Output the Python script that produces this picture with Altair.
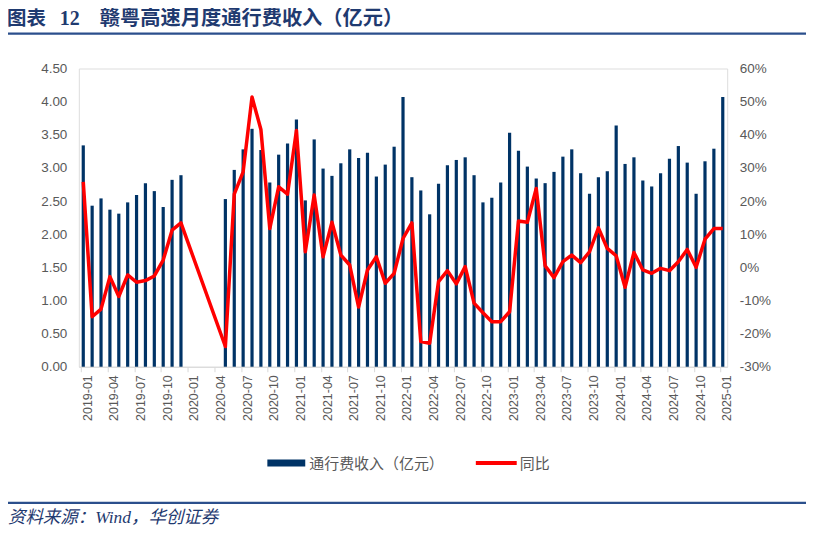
import altair as alt
import pandas as pd

# ---------------- data ----------------
all_months = [f"{y}-{m:02d}" for y in range(2019, 2026) for m in range(1, 13)]
all_months = all_months[:all_months.index("2025-01") + 1]

bar_months = [m for m in all_months if m not in ("2020-01", "2020-02", "2020-03", "2020-04")]

revenue = [
    3.34, 2.43, 2.54, 2.37, 2.31, 2.48, 2.59, 2.77, 2.65, 2.41, 2.82, 2.89,
    2.53, 2.97, 3.28, 3.59, 3.27, 2.78, 3.20, 3.37,
    3.73, 2.51, 3.43, 2.99, 2.88, 3.07, 3.28, 3.15, 3.23, 2.87, 3.05, 3.32,
    4.07, 2.86, 2.66, 2.30, 2.76, 3.04, 3.12, 3.16, 2.89, 2.48, 2.55, 2.78,
    3.53, 3.26, 3.02, 2.84, 2.77, 2.94, 3.17, 3.28, 2.92, 2.61, 2.86, 2.95,
    3.64, 3.06, 3.16, 2.81, 2.72, 2.92, 3.14, 3.33, 3.08, 2.61, 3.10, 3.29,
    4.07,
]

yoy = [
    25.8, -14.9, -12.6, -2.8, -8.8, -2.3, -4.5, -4.0, -2.6, 2.2, 11.2, 13.4,
    -23.9, 22.1, 28.8, 51.4, 41.6, 11.7, 24.3, 22.1,
    41.3, 4.7, 21.8, 3.2, 13.6, 3.7, 0.7, -12.0, -0.8, 3.2, -4.8, -1.8,
    8.7, 13.4, -22.4, -22.9, -4.3, -1.0, -5.0, 0.2, -10.8, -13.7, -16.4, -16.4,
    -13.4, 14.0, 13.6, 23.8, 0.5, -3.1, 1.7, 3.7, 1.4, 4.7, 11.9, 5.7,
    3.5, -6.0, 4.5, -0.8, -1.8, -0.3, -1.0, 1.7, 5.4, 0.0, 8.5, 11.7,
    11.7,
]

tick_months = all_months[::3]
left_ticks = [0, 0.5, 1.0, 1.5, 2.0, 2.5, 3.0, 3.5, 4.0, 4.5]
right_ticks = [-30, -20, -10, 0, 10, 20, 30, 40, 50, 60]

BAR_NAME = "通行费收入（亿元）"
LINE_NAME = "同比"
TITLE_A = "图表"
TITLE_B = "12"
TITLE_C = "赣粤高速月度通行费收入（亿元）"
SOURCE = "资料来源：Wind，华创证券"

df = pd.DataFrame({
    "month": bar_months,
    "rev": revenue,
    "yoy": yoy,
})

W, H = 650, 299
NAVY = "#003366"
RED = "#FF0000"
GREY = "#595959"
TITLEBLUE = "#1F3A70"
RULEBLUE = "#2B4F8C"
LABEL_FONT = "Liberation Sans"
CJK = "Noto Sans CJK SC"
SERIF_CJK = "Liberation Serif, Noto Sans CJK SC"

x_enc = alt.X(
    "month:O",
    scale=alt.Scale(domain=all_months, paddingInner=0.64, paddingOuter=0.32),
    axis=alt.Axis(
        values=tick_months, labelAngle=-90, bandPosition=0, labelOffset=4.45,
        title=None, domainColor="#D9D9D9", tickColor="#D9D9D9", tickSize=5,
        labelColor=GREY, labelFont=LABEL_FONT, labelFontSize=12.5, labelPadding=3,
    ),
)

bars = alt.Chart(df).mark_bar(color=NAVY).encode(
    x=x_enc,
    y=alt.Y(
        "rev:Q",
        scale=alt.Scale(domain=[0, 4.5], nice=False),
        axis=alt.Axis(
            values=left_ticks, format=".2f", grid=False, domain=False, ticks=False,
            labelPadding=12, labelColor=GREY, labelFont=LABEL_FONT, labelFontSize=13.5,
            title=None,
        ),
    ),
)

line = alt.Chart(df).mark_line(strokeWidth=3.5, strokeJoin="round", color=RED).encode(
    x=alt.X("month:O", scale=alt.Scale(domain=all_months)),
    y=alt.Y(
        "yoy:Q",
        scale=alt.Scale(domain=[-30, 60], nice=False),
        axis=alt.Axis(
            orient="right", values=right_ticks, labelExpr="datum.value + '%'",
            grid=False, domain=False, ticks=False, labelPadding=12,
            labelColor=GREY, labelFont=LABEL_FONT, labelFontSize=13.5, title=None,
        ),
    ),
)

dummy = pd.DataFrame({"a": [0]})


def text_layer(txt, x, y, size, color, weight="normal", style="normal", font=CJK):
    return alt.Chart(pd.DataFrame({"t": [txt]})).mark_text(
        align="left", baseline="middle", font=font, fontSize=size,
        fontWeight=weight, fontStyle=style, color=color,
    ).encode(text="t:N", x=alt.value(x), y=alt.value(y))


# legend (drawn as decoration)
leg_bar = alt.Chart(dummy).mark_rect(color=NAVY).encode(
    x=alt.value(189), x2=alt.value(227), y=alt.value(392), y2=alt.value(399)
)
leg_line = alt.Chart(dummy).mark_rule(color=RED, strokeWidth=4).encode(
    x=alt.value(398), x2=alt.value(439), y=alt.value(395.5)
)
leg_t1 = text_layer(BAR_NAME, 231, 397, 15, GREY)
leg_t2 = text_layer(LINE_NAME, 442, 397, 15, GREY)

TY = -50
title_a = text_layer(TITLE_A, -72, TY, 19.5, TITLEBLUE, weight="bold", font=SERIF_CJK)
title_b = text_layer(TITLE_B, -19, TY, 20, TITLEBLUE, weight="bold", font="Liberation Serif")
title_c = text_layer(TITLE_C, 21, TY, 20.3, TITLEBLUE, weight="bold", font=SERIF_CJK)
source = text_layer(SOURCE, -71, 451, 17.5, TITLEBLUE, style="italic", font=SERIF_CJK)

rule_top = alt.Chart(dummy).mark_rule(color=RULEBLUE, strokeWidth=2.2).encode(
    x=alt.value(-74), x2=alt.value(729), y=alt.value(-35)
)
rule_bot = alt.Chart(dummy).mark_rule(color=RULEBLUE, strokeWidth=2.2).encode(
    x=alt.value(-74), x2=alt.value(729), y=alt.value(435.5)
)

chart = alt.layer(
    bars, line, leg_bar, leg_line, leg_t1, leg_t2,
    title_a, title_b, title_c, source, rule_top, rule_bot,
).resolve_scale(y="independent").properties(
    width=W, height=H,
    autosize=alt.AutoSizeParams(type="none"),
    padding={"left": 71, "top": 60, "right": 79, "bottom": 159},
).configure_view(stroke=None).configure(background="white")

chart.save("out.html", embed_options={"renderer": "svg", "actions": False})
